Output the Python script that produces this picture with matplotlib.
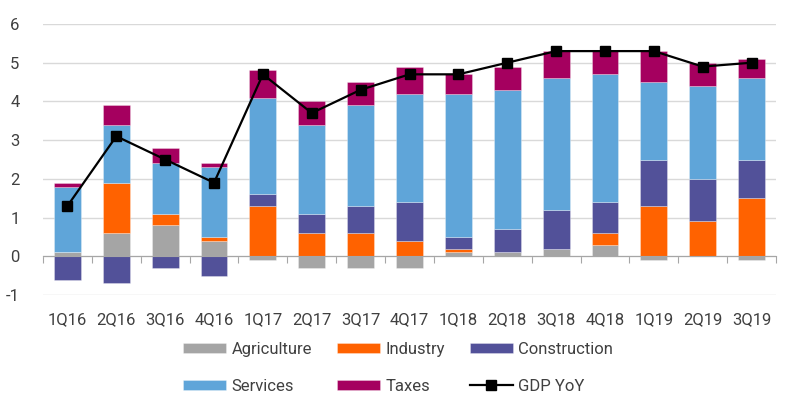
import matplotlib
matplotlib.use("Agg")
import matplotlib.pyplot as plt
import numpy as np

categories = ["1Q16", "2Q16", "3Q16", "4Q16", "1Q17", "2Q17", "3Q17", "4Q17",
              "1Q18", "2Q18", "3Q18", "4Q18", "1Q19", "2Q19", "3Q19"]
agriculture = [0.1, 0.6, 0.8, 0.4, -0.1, -0.3, -0.3, -0.3, 0.1, 0.1, 0.2, 0.3, -0.1, 0.0, -0.1]
industry = [0.0, 1.3, 0.3, 0.1, 1.3, 0.6, 0.6, 0.4, 0.1, 0.0, 0.0, 0.3, 1.3, 0.9, 1.5]
construction = [-0.6, -0.7, -0.3, -0.5, 0.3, 0.5, 0.7, 1.0, 0.3, 0.6, 1.0, 0.8, 1.2, 1.1, 1.0]
services = [1.7, 1.5, 1.3, 1.8, 2.5, 2.3, 2.6, 2.8, 3.7, 3.6, 3.4, 3.3, 2.0, 2.4, 2.1]
taxes = [0.1, 0.5, 0.4, 0.1, 0.7, 0.6, 0.6, 0.7, 0.5, 0.6, 0.7, 0.6, 0.8, 0.6, 0.5]
gdp_yoy = [1.3, 3.1, 2.5, 1.9, 4.7, 3.7, 4.3, 4.7, 4.7, 5.0, 5.3, 5.3, 5.3, 4.9, 5.0]

series = [("Agriculture", agriculture, "#A5A5A5"),
          ("Industry", industry, "#FF6200"),
          ("Construction", construction, "#525199"),
          ("Services", services, "#5FA5D9"),
          ("Taxes", taxes, "#A5005F")]

plt.rcParams['font.family'] = ['Roboto', 'DejaVu Sans']
plt.rcParams['axes.unicode_minus'] = False

fig = plt.figure(figsize=(8.0, 4.12), dpi=100)
ax = fig.add_axes([43/800, 1 - 295/412, 733/800, 271/412])

x = np.arange(len(categories))
pos_base = np.zeros(len(categories))
neg_base = np.zeros(len(categories))
handles = {}
for name, vals, col in series:
    v = np.array(vals, dtype=float)
    bottoms = np.where(v >= 0, pos_base, neg_base)
    b = ax.bar(x, v, width=0.55, bottom=bottoms, color=col, edgecolor=(1, 1, 1, 0.35),
               linewidth=0.6, zorder=3, label=name)
    handles[name] = b
    pos_base = pos_base + np.where(v >= 0, v, 0)
    neg_base = neg_base + np.where(v < 0, v, 0)

line, = ax.plot(x, gdp_yoy, color="black", linewidth=1.6, marker="s", markersize=7,
                zorder=5, label="GDP YoY")
handles["GDP YoY"] = line

ax.set_xlim(-0.5, len(categories) - 0.5)
ax.set_ylim(-1, 6)
ax.set_yticks(range(-1, 7))
ax.yaxis.grid(True, color="#D9D9D9", linewidth=1.0, zorder=0)
ax.set_axisbelow(True)
for s in ["top", "right", "left"]:
    ax.spines[s].set_visible(False)
ax.spines["bottom"].set_position(("data", 0))
ax.spines["bottom"].set_color("#A6A6A6")
ax.spines["bottom"].set_zorder(4)
ax.set_xticks(np.arange(-0.5, len(categories), 1.0))
ax.tick_params(axis="x", which="major", direction="out", length=5, color="#A6A6A6",
               labelbottom=False)
ax.tick_params(axis="y", length=0, pad=17, labelsize=12, labelcolor="#404040")

sec = ax.secondary_xaxis("bottom")
sec.set_xticks(x)
sec.set_xticklabels(categories)
sec.tick_params(length=0, pad=12, labelsize=12, labelcolor="#404040")
sec.spines["bottom"].set_visible(False)

order = ["Agriculture", "Services", "Industry", "Taxes", "Construction", "GDP YoY"]
fig.legend([handles[k] for k in order], order, ncol=3, loc="upper left",
           bbox_to_anchor=(183/800, 1 - 342/412), frameon=False, fontsize=12,
           handlelength=2.6, handleheight=0.6, handletextpad=0.3, columnspacing=1.5,
           labelspacing=1.3, borderpad=0, borderaxespad=0, labelcolor="#404040")

fig.savefig("out.png", dpi=100)
